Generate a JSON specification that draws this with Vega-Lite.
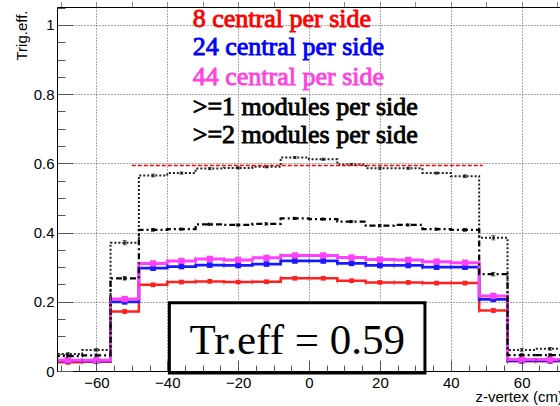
{
  "$schema": "https://vega.github.io/schema/vega-lite/v6.json",
  "width": 503,
  "height": 364,
  "autosize": {"type": "none"},
  "padding": {"left": 57, "top": 7, "right": 0, "bottom": 35},
  "background": "white",
  "config": {"view": {"stroke": null}},
  "datasets": {
    "h": [
      {"s":"r","lo":-72,"hi":-64,"c":-68,"v":0.025,"e":0.003},
      {"s":"r","lo":-64,"hi":-56,"c":-60,"v":0.027,"e":0.003},
      {"s":"r","lo":-56,"hi":-48,"c":-52,"v":0.172,"e":0.005},
      {"s":"r","lo":-48,"hi":-40,"c":-44,"v":0.249,"e":0.004},
      {"s":"r","lo":-40,"hi":-32,"c":-36,"v":0.257,"e":0.003},
      {"s":"r","lo":-32,"hi":-24,"c":-28,"v":0.259,"e":0.003},
      {"s":"r","lo":-24,"hi":-16,"c":-20,"v":0.257,"e":0.003},
      {"s":"r","lo":-16,"hi":-8,"c":-12,"v":0.258,"e":0.003},
      {"s":"r","lo":-8,"hi":0,"c":-4,"v":0.268,"e":0.003},
      {"s":"r","lo":0,"hi":8,"c":4,"v":0.268,"e":0.003},
      {"s":"r","lo":8,"hi":16,"c":12,"v":0.261,"e":0.003},
      {"s":"r","lo":16,"hi":24,"c":20,"v":0.256,"e":0.003},
      {"s":"r","lo":24,"hi":32,"c":28,"v":0.256,"e":0.003},
      {"s":"r","lo":32,"hi":40,"c":36,"v":0.254,"e":0.003},
      {"s":"r","lo":40,"hi":48,"c":44,"v":0.254,"e":0.004},
      {"s":"r","lo":48,"hi":56,"c":52,"v":0.175,"e":0.005},
      {"s":"r","lo":56,"hi":64,"c":60,"v":0.028,"e":0.003},
      {"s":"r","lo":64,"hi":72,"c":68,"v":0.028,"e":0.003},
      {"s":"b","lo":-72,"hi":-64,"c":-68,"v":0.029,"e":0.003},
      {"s":"b","lo":-64,"hi":-56,"c":-60,"v":0.029,"e":0.003},
      {"s":"b","lo":-56,"hi":-48,"c":-52,"v":0.200,"e":0.006},
      {"s":"b","lo":-48,"hi":-40,"c":-44,"v":0.297,"e":0.005},
      {"s":"b","lo":-40,"hi":-32,"c":-36,"v":0.302,"e":0.003},
      {"s":"b","lo":-32,"hi":-24,"c":-28,"v":0.306,"e":0.003},
      {"s":"b","lo":-24,"hi":-16,"c":-20,"v":0.305,"e":0.003},
      {"s":"b","lo":-16,"hi":-8,"c":-12,"v":0.309,"e":0.003},
      {"s":"b","lo":-8,"hi":0,"c":-4,"v":0.318,"e":0.003},
      {"s":"b","lo":0,"hi":8,"c":4,"v":0.318,"e":0.003},
      {"s":"b","lo":8,"hi":16,"c":12,"v":0.311,"e":0.003},
      {"s":"b","lo":16,"hi":24,"c":20,"v":0.305,"e":0.003},
      {"s":"b","lo":24,"hi":32,"c":28,"v":0.305,"e":0.003},
      {"s":"b","lo":32,"hi":40,"c":36,"v":0.300,"e":0.003},
      {"s":"b","lo":40,"hi":48,"c":44,"v":0.300,"e":0.004},
      {"s":"b","lo":48,"hi":56,"c":52,"v":0.207,"e":0.006},
      {"s":"b","lo":56,"hi":64,"c":60,"v":0.030,"e":0.003},
      {"s":"b","lo":64,"hi":72,"c":68,"v":0.030,"e":0.003},
      {"s":"m","lo":-72,"hi":-64,"c":-68,"v":0.031,"e":0.003},
      {"s":"m","lo":-64,"hi":-56,"c":-60,"v":0.031,"e":0.003},
      {"s":"m","lo":-56,"hi":-48,"c":-52,"v":0.208,"e":0.006},
      {"s":"m","lo":-48,"hi":-40,"c":-44,"v":0.311,"e":0.005},
      {"s":"m","lo":-40,"hi":-32,"c":-36,"v":0.318,"e":0.003},
      {"s":"m","lo":-32,"hi":-24,"c":-28,"v":0.324,"e":0.003},
      {"s":"m","lo":-24,"hi":-16,"c":-20,"v":0.321,"e":0.003},
      {"s":"m","lo":-16,"hi":-8,"c":-12,"v":0.327,"e":0.003},
      {"s":"m","lo":-8,"hi":0,"c":-4,"v":0.334,"e":0.003},
      {"s":"m","lo":0,"hi":8,"c":4,"v":0.334,"e":0.003},
      {"s":"m","lo":8,"hi":16,"c":12,"v":0.328,"e":0.003},
      {"s":"m","lo":16,"hi":24,"c":20,"v":0.322,"e":0.003},
      {"s":"m","lo":24,"hi":32,"c":28,"v":0.321,"e":0.003},
      {"s":"m","lo":32,"hi":40,"c":36,"v":0.316,"e":0.003},
      {"s":"m","lo":40,"hi":48,"c":44,"v":0.313,"e":0.004},
      {"s":"m","lo":48,"hi":56,"c":52,"v":0.217,"e":0.006},
      {"s":"m","lo":56,"hi":64,"c":60,"v":0.033,"e":0.003},
      {"s":"m","lo":64,"hi":72,"c":68,"v":0.033,"e":0.003},
      {"s":"k1","lo":-72,"hi":-64,"c":-68,"v":0.049,"e":0.004},
      {"s":"k1","lo":-64,"hi":-56,"c":-60,"v":0.061,"e":0.004},
      {"s":"k1","lo":-56,"hi":-48,"c":-52,"v":0.371,"e":0.006},
      {"s":"k1","lo":-48,"hi":-40,"c":-44,"v":0.565,"e":0.004},
      {"s":"k1","lo":-40,"hi":-32,"c":-36,"v":0.572,"e":0.003},
      {"s":"k1","lo":-32,"hi":-24,"c":-28,"v":0.585,"e":0.003},
      {"s":"k1","lo":-24,"hi":-16,"c":-20,"v":0.587,"e":0.003},
      {"s":"k1","lo":-16,"hi":-8,"c":-12,"v":0.590,"e":0.003},
      {"s":"k1","lo":-8,"hi":0,"c":-4,"v":0.617,"e":0.003},
      {"s":"k1","lo":0,"hi":8,"c":4,"v":0.612,"e":0.003},
      {"s":"k1","lo":8,"hi":16,"c":12,"v":0.597,"e":0.003},
      {"s":"k1","lo":16,"hi":24,"c":20,"v":0.586,"e":0.003},
      {"s":"k1","lo":24,"hi":32,"c":28,"v":0.586,"e":0.003},
      {"s":"k1","lo":32,"hi":40,"c":36,"v":0.572,"e":0.003},
      {"s":"k1","lo":40,"hi":48,"c":44,"v":0.563,"e":0.004},
      {"s":"k1","lo":48,"hi":56,"c":52,"v":0.385,"e":0.006},
      {"s":"k1","lo":56,"hi":64,"c":60,"v":0.061,"e":0.004},
      {"s":"k1","lo":64,"hi":72,"c":68,"v":0.064,"e":0.004},
      {"s":"k2","lo":-72,"hi":-64,"c":-68,"v":0.043,"e":0.004},
      {"s":"k2","lo":-64,"hi":-56,"c":-60,"v":0.045,"e":0.004},
      {"s":"k2","lo":-56,"hi":-48,"c":-52,"v":0.268,"e":0.005},
      {"s":"k2","lo":-48,"hi":-40,"c":-44,"v":0.408,"e":0.004},
      {"s":"k2","lo":-40,"hi":-32,"c":-36,"v":0.410,"e":0.003},
      {"s":"k2","lo":-32,"hi":-24,"c":-28,"v":0.424,"e":0.003},
      {"s":"k2","lo":-24,"hi":-16,"c":-20,"v":0.422,"e":0.003},
      {"s":"k2","lo":-16,"hi":-8,"c":-12,"v":0.425,"e":0.003},
      {"s":"k2","lo":-8,"hi":0,"c":-4,"v":0.441,"e":0.003},
      {"s":"k2","lo":0,"hi":8,"c":4,"v":0.439,"e":0.003},
      {"s":"k2","lo":8,"hi":16,"c":12,"v":0.432,"e":0.003},
      {"s":"k2","lo":16,"hi":24,"c":20,"v":0.420,"e":0.003},
      {"s":"k2","lo":24,"hi":32,"c":28,"v":0.422,"e":0.003},
      {"s":"k2","lo":32,"hi":40,"c":36,"v":0.410,"e":0.003},
      {"s":"k2","lo":40,"hi":48,"c":44,"v":0.408,"e":0.004},
      {"s":"k2","lo":48,"hi":56,"c":52,"v":0.280,"e":0.005},
      {"s":"k2","lo":56,"hi":64,"c":60,"v":0.046,"e":0.004},
      {"s":"k2","lo":64,"hi":72,"c":68,"v":0.046,"e":0.004}
    ]
  },
  "resolve": {"axis": {"x": "independent", "y": "independent"}},
  "layer": [
    {
      "data": {"name": "h"},
      "mark": {"type": "line", "interpolate": "step-after", "clip": true},
      "encoding": {
        "x": {"field": "lo", "type": "quantitative",
          "scale": {"domain": [-71.1, 70.8], "nice": false, "zero": false},
          "axis": {"orient": "bottom", "values": [-60, -40, -20, 0, 20, 40, 60], "grid": true, "gridColor": "#555", "gridDash": [1, 2], "gridWidth": 1, "ticks": false, "domain": false, "labelFont": "Liberation Sans", "labelFontSize": 15, "labelColor": "#000", "labelPadding": 4, "labelFlush": false, "title": "z-vertex (cm)", "titleFont": "Liberation Sans", "titleFontSize": 15, "titleFontWeight": "normal", "titleColor": "#000", "titleAlign": "left", "titleX": 418, "titleY": 30, "titleBaseline": "alphabetic", "zindex": 0}},
        "y": {"field": "v", "type": "quantitative",
          "scale": {"domain": [0, 1.052], "nice": false, "zero": false},
          "axis": {"orient": "left", "values": [0, 0.2, 0.4, 0.6, 0.8, 1], "format": "~g", "grid": true, "gridColor": "#555", "gridDash": [1, 2], "gridWidth": 1, "ticks": false, "domain": false, "labelFont": "Liberation Sans", "labelFontSize": 15, "labelColor": "#000", "labelPadding": 3, "title": "Trig.eff.", "titleFont": "Liberation Sans", "titleFontSize": 15, "titleFontWeight": "normal", "titleColor": "#000", "titleAngle": -90, "titleAlign": "right", "titleBaseline": "middle", "titleX": -36, "titleY": 3, "zindex": 0}},
        "color": {"field": "s", "type": "nominal", "legend": null,
          "scale": {"domain": ["k1", "k2", "r", "b", "m"], "range": ["#222222", "#000000", "#ff2020", "#1a1aff", "#ff40ff"]}},
        "strokeDash": {"field": "s", "type": "nominal", "legend": null,
          "scale": {"domain": ["k1", "k2", "r", "b", "m"], "range": [[2, 2], [6, 3, 2, 3], [1, 0], [1, 0], [1, 0]]}},
        "strokeWidth": {"field": "s", "type": "nominal", "legend": null,
          "scale": {"domain": ["k1", "k2", "r", "b", "m"], "range": [2, 3, 1, 1, 1]}},
        "order": {"field": "lo", "type": "quantitative"}
      }
    },
    {
      "data": {"name": "h"},
      "transform": [{"filter": "datum.lo == 64"}],
      "mark": {"type": "rule", "clip": true},
      "encoding": {
        "x": {"field": "lo", "type": "quantitative",
          "scale": {"domain": [-71.1, 70.8], "nice": false, "zero": false},
          "axis": {"orient": "bottom", "values": [-60, -40, -20, 0, 20, 40, 60], "grid": false, "labels": false, "ticks": true, "tickSize": -11, "tickColor": "#555", "tickWidth": 1, "domain": true, "domainColor": "#000", "domainWidth": 1, "title": null, "zindex": 1}},
        "x2": {"field": "hi"},
        "y": {"field": "v", "type": "quantitative",
          "scale": {"domain": [0, 1.052], "nice": false, "zero": false},
          "axis": {"orient": "left", "values": [0, 0.2, 0.4, 0.6, 0.8, 1], "grid": false, "labels": false, "ticks": true, "tickSize": -16, "tickColor": "#555", "tickWidth": 1, "domain": true, "domainColor": "#000", "domainWidth": 1, "title": null, "zindex": 1}},
        "color": {"field": "s", "type": "nominal", "legend": null},
        "strokeDash": {"field": "s", "type": "nominal", "legend": null},
        "strokeWidth": {"field": "s", "type": "nominal", "legend": null}
      }
    },
    {
      "data": {"name": "h"},
      "transform": [{"filter": "datum.s == 'r' || datum.s == 'b' || datum.s == 'm'"}],
      "mark": {"type": "tick", "orient": "vertical", "size": 5, "thickness": 1, "clip": true},
      "encoding": {
        "x": {"field": "lo", "type": "quantitative",
          "scale": {"domain": [-71.1, 70.8], "nice": false, "zero": false},
          "axis": {"orient": "bottom", "values": [-70, -65, -55, -50, -45, -35, -30, -25, -15, -10, -5, 5, 10, 15, 25, 30, 35, 45, 50, 55, 65, 70], "grid": false, "labels": false, "ticks": true, "tickSize": -6, "tickColor": "#555", "tickWidth": 1, "domain": false, "title": null, "zindex": 1}},
        "y": {"field": "v", "type": "quantitative",
          "scale": {"domain": [0, 1.052], "nice": false, "zero": false},
          "axis": {"orient": "left", "values": [0.05, 0.1, 0.15, 0.25, 0.3, 0.35, 0.45, 0.5, 0.55, 0.65, 0.7, 0.75, 0.85, 0.9, 0.95, 1.05], "grid": false, "labels": false, "ticks": true, "tickSize": -8, "tickColor": "#555", "tickWidth": 1, "domain": false, "title": null, "zindex": 1}},
        "color": {"field": "s", "type": "nominal", "legend": null}
      }
    },
    {
      "data": {"name": "h"},
      "mark": {"type": "errorbar", "ticks": {"size": 4}, "thickness": 1},
      "encoding": {
        "x": {"field": "c", "type": "quantitative", "scale": {"domain": [-71.1, 70.8], "nice": false, "zero": false}, "axis": null},
        "y": {"field": "v", "type": "quantitative", "scale": {"domain": [0, 1.052], "nice": false, "zero": false}, "axis": null},
        "yError": {"field": "e"},
        "color": {"field": "s", "type": "nominal", "legend": null}
      }
    },
    {
      "data": {"name": "h"},
      "mark": {"type": "point", "filled": true, "opacity": 1},
      "encoding": {
        "x": {"field": "c", "type": "quantitative",
          "scale": {"domain": [-71.1, 70.8], "nice": false, "zero": false},
          "axis": {"orient": "top", "labels": false, "ticks": false, "grid": false, "domain": true, "domainColor": "#000", "domainWidth": 1, "title": null, "zindex": 1}},
        "y": {"field": "v", "type": "quantitative", "scale": {"domain": [0, 1.052], "nice": false, "zero": false}, "axis": null},
        "color": {"field": "s", "type": "nominal", "legend": null},
        "shape": {"field": "s", "type": "nominal", "legend": null,
          "scale": {"domain": ["k1", "k2", "r", "b", "m"], "range": ["square", "triangle-right", "square", "square", "square"]}},
        "size": {"field": "s", "type": "nominal", "legend": null,
          "scale": {"domain": ["k1", "k2", "r", "b", "m"], "range": [5, 40, 7, 7, 7]}}
      }
    },
    {
      "data": {"values": [{}]},
      "mark": {"type": "rule", "color": "#ff0000", "strokeDash": [4, 2], "strokeWidth": 1.5},
      "encoding": {"x": {"datum": -50}, "x2": {"datum": 49}, "y": {"datum": 0.594}}
    },
    {
      "data": {"values": [{}]},
      "mark": {"type": "rect", "fill": "white", "stroke": "#000", "strokeWidth": 3},
      "encoding": {"x": {"datum": -39.4}, "x2": {"datum": 32.7}, "y": {"datum": 0.197}, "y2": {"datum": -0.006}}
    },
    {
      "data": {"values": [{}]},
      "mark": {"type": "text", "text": "Tr.eff = 0.59", "font": "Liberation Serif", "fontSize": 43, "align": "left", "baseline": "alphabetic", "color": "#000"},
      "encoding": {"x": {"datum": -33.7}, "y": {"datum": 0.049}}
    },
    {
      "data": {"values": [{}]},
      "mark": {"type": "text", "text": "8 central per side", "font": "Liberation Serif", "fontSize": 26, "stroke": "#ff0000", "strokeWidth": 0.9, "align": "left", "baseline": "alphabetic", "color": "#ff0000"},
      "encoding": {"x": {"datum": -32.8}, "y": {"datum": 0.995}}
    },
    {
      "data": {"values": [{}]},
      "mark": {"type": "text", "text": "24 central per side", "font": "Liberation Serif", "fontSize": 26, "stroke": "#0000ff", "strokeWidth": 0.9, "align": "left", "baseline": "alphabetic", "color": "#0000ff"},
      "encoding": {"x": {"datum": -32.8}, "y": {"datum": 0.913}}
    },
    {
      "data": {"values": [{}]},
      "mark": {"type": "text", "text": "44 central per side", "font": "Liberation Serif", "fontSize": 26, "stroke": "#ff44dd", "strokeWidth": 0.9, "align": "left", "baseline": "alphabetic", "color": "#ff44dd"},
      "encoding": {"x": {"datum": -32.8}, "y": {"datum": 0.826}}
    },
    {
      "data": {"values": [{}]},
      "mark": {"type": "text", "text": ">=1 modules per side", "font": "Liberation Serif", "fontSize": 26, "stroke": "#000", "strokeWidth": 0.9, "align": "left", "baseline": "alphabetic", "color": "#000"},
      "encoding": {"x": {"datum": -32.8}, "y": {"datum": 0.740}}
    },
    {
      "data": {"values": [{}]},
      "mark": {"type": "text", "text": ">=2 modules per side", "font": "Liberation Serif", "fontSize": 26, "stroke": "#000", "strokeWidth": 0.9, "align": "left", "baseline": "alphabetic", "color": "#000"},
      "encoding": {"x": {"datum": -32.8}, "y": {"datum": 0.658}}
    }
  ]
}
